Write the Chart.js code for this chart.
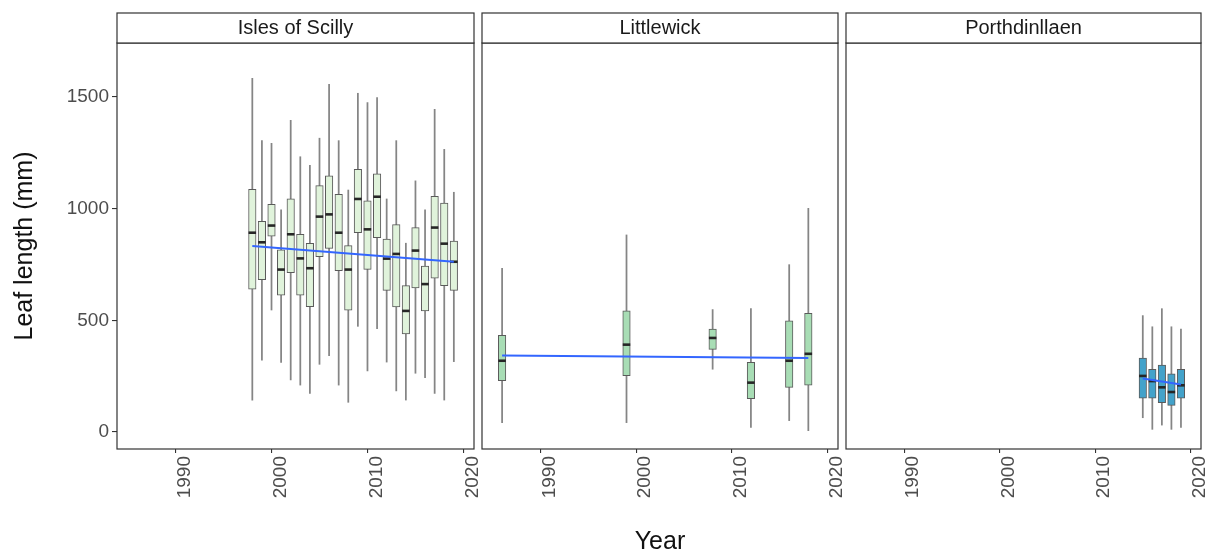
<!DOCTYPE html>
<html>
<head>
<meta charset="utf-8">
<title>Leaf length by year</title>
<script src="https://cdn.jsdelivr.net/npm/chart.js@4.4.1/dist/chart.umd.min.js"></script>
<style>
  body { margin: 0; background: #fff; }
  #wrap { position: relative; width: 1212px; height: 554px; }
  #wrap canvas { position: absolute; left: 0; top: 0; }
</style>
</head>
<body>
<div id="wrap">
  <canvas id="scilly" width="1212" height="554"></canvas>
  <canvas id="littlewick" width="1212" height="554"></canvas>
  <canvas id="porth" width="1212" height="554"></canvas>
</div>
<script>
// Isles of Scilly - yearly leaf length summaries
const scillyYears = [1998, 1999, 2000, 2001, 2002, 2003, 2004, 2005, 2006, 2007, 2008,
                     2009, 2010, 2011, 2012, 2013, 2014, 2015, 2016, 2017, 2018, 2019];
const scillyLow  = [143, 322, 546, 312, 233, 210, 173, 303, 342, 210, 133, 473, 273, 462, 313, 184, 143, 263, 243, 173, 143, 315];
const scillyQ1   = [639, 682, 877, 613, 713, 613, 561, 785, 822, 722, 545, 892, 728, 870, 634, 560, 439, 645, 542, 689, 655, 634];
const scillyMed  = [892, 849, 924, 727, 885, 777, 733, 964, 974, 892, 727, 1043, 907, 1053, 776, 797, 542, 812, 662, 915, 843, 762];
const scillyQ3   = [1086, 943, 1019, 815, 1044, 885, 845, 1103, 1146, 1064, 834, 1176, 1035, 1156, 863, 928, 655, 915, 743, 1055, 1025, 854];
const scillyHigh = [1583, 1304, 1292, 994, 1395, 1232, 1194, 1315, 1556, 1304, 1083, 1516, 1474, 1497, 1043, 1304, 845, 1124, 994, 1444, 1265, 1073];
const scillyTrendYears = [1998, 2019];
const scillyTrend = [833, 762];

// Littlewick
const littleYears = [1986, 1999, 2008, 2012, 2016, 2018];
const littleLow  = [42, 42, 281, 21, 51, 6];
const littleQ1   = [230, 252, 370, 149, 200, 210];
const littleMed  = [319, 391, 421, 221, 319, 350];
const littleQ3   = [433, 542, 461, 312, 498, 531];
const littleHigh = [733, 882, 548, 552, 749, 1001];
const littleTrendYears = [1986, 2018];
const littleTrend = [343, 331];

// Porthdinllaen
const porthYears = [2015, 2016, 2017, 2018, 2019];
const porthLow  = [64, 12, 31, 12, 21];
const porthQ1   = [151, 151, 131, 119, 151];
const porthMed  = [251, 228, 200, 179, 209];
const porthQ3   = [331, 280, 300, 260, 280];
const porthHigh = [521, 471, 552, 471, 461];
const porthTrendYears = [2015, 2019];
const porthTrend = [240, 213];

const yTicks = [0, 500, 1000, 1500];
const xTicks = [1990, 2000, 2010, 2020];

const FONT = "'Liberation Sans', Arial, sans-serif";

// panel frame + strip label on top
const facetFrame = {
  id: 'facetFrame',
  afterDraw(chart, args, opts) {
    const { ctx, chartArea: a } = chart;
    ctx.save();
    ctx.strokeStyle = '#333';
    ctx.lineWidth = 1.2;
    ctx.strokeRect(a.left, a.top, a.right - a.left, a.bottom - a.top);
    ctx.fillStyle = '#fff';
    ctx.fillRect(a.left, a.top - 30, a.right - a.left, 30);
    ctx.strokeRect(a.left, a.top - 30, a.right - a.left, 30);
    ctx.fillStyle = '#1a1a1a';
    ctx.font = '20px ' + FONT;
    ctx.textAlign = 'center';
    ctx.textBaseline = 'middle';
    ctx.fillText(opts.label, (a.left + a.right) / 2, a.top - 15);
    ctx.restore();
  }
};

function makePanel(id, p) {
  const pts = (vals) => p.years.map((x, i) => ({ x: x, y: vals[i] }));
  const ranges = (a, b) => p.years.map((x, i) => ({ x: x, y: [a[i], b[i]] }));

  return new Chart(document.getElementById(id), {
    type: 'bar',
    data: {
      datasets: [
        {
          // whiskers
          data: ranges(p.low, p.high),
          backgroundColor: '#858585',
          borderWidth: 0,
          grouped: false,
          barPercentage: 1,
          categoryPercentage: 1,
          maxBarThickness: 1.1,
          order: 4
        },
        {
          // boxes
          data: ranges(p.q1, p.q3),
          backgroundColor: p.fill,
          borderColor: '#5a5a5a',
          borderWidth: 1,
          borderSkipped: false,
          grouped: false,
          barPercentage: 1,
          categoryPercentage: 1,
          maxBarThickness: 7.5,
          order: 3
        },
        {
          // medians
          type: 'line',
          data: pts(p.med),
          showLine: false,
          pointStyle: 'line',
          pointRadius: 3.75,
          pointBorderWidth: 2.6,
          pointBorderColor: '#262626',
          order: 2
        },
        {
          // linear trend
          type: 'line',
          data: p.trendYears.map((x, i) => ({ x: x, y: p.trend[i] })),
          borderColor: '#3366FF',
          borderWidth: 2,
          pointRadius: 0,
          order: 1
        }
      ]
    },
    options: {
      responsive: false,
      animation: false,
      events: [],
      layout: { padding: { left: p.padLeft, right: p.padRight, top: 43, bottom: 0 } },
      plugins: {
        legend: { display: false },
        tooltip: { enabled: false },
        facetFrame: { label: p.label }
      },
      scales: {
        x: {
          type: 'linear',
          min: 1983.9,
          max: 2021.1,
          offset: false,
          afterBuildTicks: (s) => { s.ticks = xTicks.map(v => ({ value: v })); },
          afterFit: (s) => { s.height = 105; s.paddingLeft = 0; s.paddingRight = 0; },
          grid: { display: true, offset: false, drawOnChartArea: false, tickLength: 4, color: '#333', lineWidth: 1.1 },
          border: { display: false },
          ticks: {
            minRotation: 90,
            maxRotation: 90,
            padding: 3,
            labelOffset: 9,
            color: '#4d4d4d',
            font: { family: FONT, size: 19 },
            callback: (v) => String(v)
          },
          title: {
            display: p.showXTitle,
            text: 'Year',
            color: '#111',
            font: { family: FONT, size: 25 },
            padding: { top: 0, bottom: -3 }
          }
        },
        y: {
          type: 'linear',
          display: p.showY,
          min: -76,
          max: 1741,
          afterBuildTicks: (s) => { s.ticks = yTicks.map(v => ({ value: v })); },
          afterFit: (s) => { s.width = p.showY ? 117 : 0; },
          grid: { display: true, drawOnChartArea: false, tickLength: 5, color: '#333', lineWidth: 1.1 },
          border: { display: false },
          ticks: {
            padding: 3,
            color: '#4d4d4d',
            font: { family: FONT, size: 19 },
            callback: (v) => String(v)
          },
          title: {
            display: true,
            text: 'Leaf length (mm)',
            color: '#111',
            font: { family: FONT, size: 25 },
            padding: { top: 10, bottom: 0 }
          }
        }
      }
    },
    plugins: [facetFrame]
  });
}

makePanel('scilly', {
  label: 'Isles of Scilly', fill: '#e0f3db',
  years: scillyYears, low: scillyLow, q1: scillyQ1, med: scillyMed, q3: scillyQ3, high: scillyHigh,
  trendYears: scillyTrendYears, trend: scillyTrend,
  padLeft: 0, padRight: 738, showY: true, showXTitle: false
});

makePanel('littlewick', {
  label: 'Littlewick', fill: '#a8ddb5',
  years: littleYears, low: littleLow, q1: littleQ1, med: littleMed, q3: littleQ3, high: littleHigh,
  trendYears: littleTrendYears, trend: littleTrend,
  padLeft: 482, padRight: 374, showY: false, showXTitle: true
});

makePanel('porth', {
  label: 'Porthdinllaen', fill: '#43a2ca',
  years: porthYears, low: porthLow, q1: porthQ1, med: porthMed, q3: porthQ3, high: porthHigh,
  trendYears: porthTrendYears, trend: porthTrend,
  padLeft: 846, padRight: 11, showY: false, showXTitle: false
});
</script>
</body>
</html>
